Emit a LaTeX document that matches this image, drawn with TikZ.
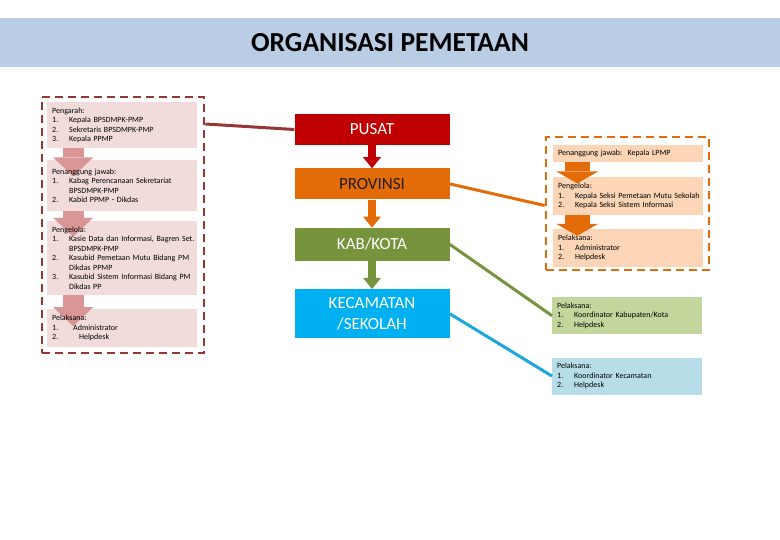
\documentclass[tikz,border=0pt]{standalone}
\usepackage{fontspec}
\setmainfont{Carlito}
\usetikzlibrary{arrows.meta,positioning}
\pgfdeclarelayer{latar}
\pgfdeclarelayer{tengah}
\pgfsetlayers{latar,tengah,main}
\definecolor{bandbiru}{HTML}{B9CDE5}
\definecolor{merahtua}{HTML}{953735}
\definecolor{pinkmuda}{HTML}{F2DCDB}
\definecolor{pinktua}{HTML}{D99694}
\definecolor{merah}{HTML}{C00000}
\definecolor{oranye}{HTML}{E36C09}
\definecolor{peach}{HTML}{FBD5B5}
\definecolor{hijau}{HTML}{77933C}
\definecolor{hijaumuda}{HTML}{C3D69B}
\definecolor{biru}{HTML}{00B0F0}
\definecolor{birugaris}{HTML}{1CA6E0}
\definecolor{birumuda}{HTML}{B7DEE8}
\definecolor{teksgelap}{HTML}{1F1F1F}
\newcommand{\butir}[2]{\makebox[17pt][l]{#1}\mbox{#2}}
\newcommand{\lanjut}[1]{\hspace*{17pt}\mbox{#1}}
\tikzset{
  judul/.style = {fill=bandbiru, minimum width=780pt, minimum height=49pt, inner sep=0pt, font=\fontsize{27.5}{30}\selectfont\bfseries},
  grupkiri/.style = {draw=merahtua, line width=2.6pt, dash pattern=on 8pt off 5pt, minimum width=162pt, minimum height=256pt, inner sep=0pt},
  grupkanan/.style = {draw=oranye, line width=2.6pt, dash pattern=on 8pt off 5pt, minimum width=163pt, minimum height=133pt, inner sep=0pt},
  ket/.style = {text width=140pt, inner xsep=5pt, inner ysep=2pt, align=left, font=\fontsize{8}{9.5}\selectfont},
  level/.style = {minimum width=155pt, inner sep=0pt, align=center, font=\fontsize{17}{21}\selectfont},
  panahpink/.style = {color=pinktua, line width=21pt, -{Triangle[width=40pt,length=19pt,line width=0pt]}},
  panahoranye/.style = {color=oranye, line width=25pt, -{Triangle[width=42pt,length=12pt,line width=0pt]}},
  panahkecil/.style = {line width=8pt, -{Triangle[width=18pt,length=11pt,line width=0pt]}},
  garis/.style = {line width=3pt}
}

\begin{document}
\begin{tikzpicture}[x=1pt, y=-1pt]
  \useasboundingbox (0,0) rectangle (780,540);
  \node[judul] (judul) at (390,42.5) {ORGANISASI PEMETAAN};

  % kelompok pusat (kiri)
  \node[grupkiri] (kiri) at (123,225) {};
  \node[ket, minimum height=46pt, anchor=north west] (pengarah) at (47,102)
    {Pengarah:\\ \butir{1.}{Kepala BPSDMPK-PMP}\\ \butir{2.}{Sekretaris BPSDMPK-PMP}\\ \butir{3.}{Kepala PPMP}};
  \node[ket, minimum height=50pt, below=12pt of pengarah] (pj)
    {Penanggung jawab:\\ \butir{1.}{Kabag Perencanaan Sekretariat}\\ \lanjut{BPSDMPK-PMP}\\ \butir{2.}{Kabid PPMP - Dikdas}};
  \node[ket, minimum height=74pt, below=10pt of pj] (pengelola)
    {Pengelola:\\ \butir{1.}{Kasie Data dan Informasi, Bagren Set.}\\ \lanjut{BPSDMPK-PMP}\\
     \butir{2.}{Kasubid Pemetaan Mutu Bidang PM}\\ \lanjut{Dikdas PPMP}\\
     \butir{3.}{Kasubid Sistem Informasi Bidang PM}\\ \lanjut{Dikdas PP}};
  \node[ket, minimum height=37pt, below=14pt of pengelola] (pelaksana)
    {Pelaksana:\\ \makebox[21pt][l]{1.}Administrator\\ \makebox[27pt][l]{2.}Helpdesk};

  % jenjang
  \node[level, fill=merah, text=white, minimum height=31pt] (pusat) at (372,129.5) {PUSAT};
  \node[level, fill=oranye, text=teksgelap, minimum height=31pt, below=23pt of pusat] (provinsi) {PROVINSI};
  \node[level, fill=hijau, text=white, minimum height=33pt, below=28pt of provinsi] (kab) {KAB/KOTA};
  \node[level, fill=biru, text=white, minimum height=49pt, below=28pt of kab] (kec) {KECAMATAN\\/SEKOLAH};
  \draw[panahkecil, merah] (pusat.south) -- (provinsi.north);
  \draw[panahkecil, oranye] (provinsi.south) -- (kab.north);
  \draw[panahkecil, hijau] (kab.south) -- (kec.north);

  % kelompok provinsi (kanan)
  \node[grupkanan] (kanan) at (627.5,203.5) {};
  \node[ket, minimum height=17pt, anchor=north west] (lpj) at (553,145)
    {Penanggung jawab:\ \ Kepala LPMP};
  \node[ket, minimum height=37pt, below=15pt of lpj] (lpengelola)
    {Pengelola:\\ \butir{1.}{Kepala Seksi Pemetaan Mutu Sekolah}\\ \butir{2.}{Kepala Seksi Sistem Informasi}};
  \node[ket, minimum height=38pt, below=14pt of lpengelola] (lpelaksana)
    {Pelaksana:\\ \butir{1.}{Administrator}\\ \butir{2.}{Helpdesk}};

  \node[ket, fill=hijaumuda, minimum height=37pt, anchor=north west] (kabpel) at (552,297)
    {Pelaksana:\\ \butir{1.}{Koordinator Kabupaten/Kota}\\ \butir{2.}{Helpdesk}};
  \node[ket, fill=birumuda, minimum height=37pt, below=23pt of kabpel] (kecpel)
    {Pelaksana:\\ \butir{1.}{Koordinator Kecamatan}\\ \butir{2.}{Helpdesk}};

  % isi kotak di bawah panah, panah di bawah teks
  \begin{pgfonlayer}{latar}
    \foreach \k in {pengarah,pj,pengelola,pelaksana}
      \fill[pinkmuda] (\k.north west) rectangle (\k.south east);
    \foreach \k in {lpj,lpengelola,lpelaksana}
      \fill[peach] (\k.north west) rectangle (\k.south east);
  \end{pgfonlayer}
  \begin{pgfonlayer}{tengah}
    \draw[panahpink] ([xshift=-49pt]pengarah.south) -- ([xshift=-49pt,yshift=-16pt]pj.north);
    \draw[panahpink] ([xshift=-49pt]pj.south) -- ([xshift=-49pt,yshift=-16pt]pengelola.north);
    \draw[panahpink] ([xshift=-49pt]pengelola.south) -- ([xshift=-49pt,yshift=-17pt]pelaksana.north);
    \draw[panahoranye] ([xshift=-51pt]lpj.south) -- ([xshift=-51pt,yshift=-6pt]lpengelola.north);
    \draw[panahoranye] ([xshift=-51pt]lpengelola.south) -- ([xshift=-51pt,yshift=-7pt]lpelaksana.north);
  \end{pgfonlayer}

  % garis penghubung
  \draw[garis, merahtua] ([yshift=101pt]kiri.east) -- (pusat.west);
  \draw[garis, oranye] (provinsi.east) -- ([yshift=-2pt]kanan.west);
  \draw[garis, hijau] (kab.east) -- (kabpel.west);
  \draw[garis, birugaris] (kec.east) -- (kecpel.west);
\end{tikzpicture}
\end{document}
